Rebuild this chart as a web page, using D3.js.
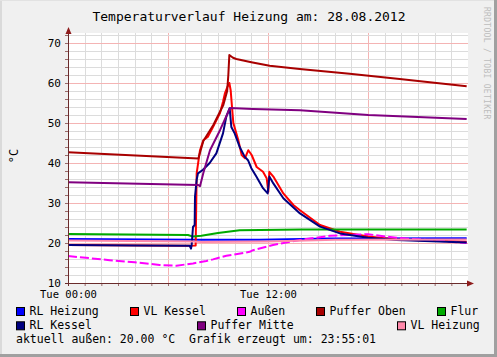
<!DOCTYPE html>
<html>
<head>
<meta charset="utf-8">
<script src="https://cdn.jsdelivr.net/npm/d3@7"></script>
<style>
  body { margin: 0; background: #f0f0f0; }
  svg text { font-family: "DejaVu Sans Mono", monospace; }
</style>
</head>
<body>
<svg id="chart" width="497" height="357"></svg>
<script>
// series data: [hour, °C]
var rlHeizung  = [[0,21.0],[7.5,20.8],[11.5,20.8],[15.7,21.1],[23.92,21.2]];
var vlKessel   = [[0,19.5],[7.3,19.3],[7.66,19.4],[7.72,37.4],[7.92,43.2],[8.12,45.7],[8.4,46.6],[8.7,49],
                  [9.12,52.5],[9.3,55.3],[9.42,57.5],[9.56,59],[9.68,60],[9.76,58.2],[9.84,54],[9.92,50],
                  [10.22,45.7],[10.42,42],[10.62,41.2],[10.82,43.2],[11.02,42],[11.32,39],[11.7,37.8],
                  [11.92,36.2],[12.02,32.8],[12.08,37.8],[12.32,36.6],[12.92,32.4],[13.52,29.5],[13.92,28.2],
                  [15.12,24.5],[16.32,22.8],[18.02,21.6],[19.72,20.9],[23.92,20.3]];
var aussen     = [[0,16.75],[2.5,15.7],[4,15.2],[5.5,14.5],[6.5,14.3],[7.5,14.9],[8.3,15.5],[8.7,15.9],
                  [9.5,16.8],[10.9,17.8],[11.1,18.2],[12.3,19.5],[13.9,20.75],[15.7,21.8],[18.0,22.2],
                  [19.7,21.3],[21.7,20.7],[23.92,20.0]];
var pufferOben = [[0,42.7],[7.82,41.1],[8.12,45.5],[8.72,49.5],[9.32,54.5],[9.55,58],[9.62,62],[9.68,67],
                  [9.9,66.3],[10.1,66],[11,65.2],[12.1,64.3],[13.9,63.5],[16.9,62.3],[19.9,61],[23.92,59.2]];
var flur       = [[0,22.25],[7.2,22.0],[7.5,21.6],[8.0,21.8],[9.0,22.5],[10.3,23.2],[14,23.35],[23.92,23.4]];
var rlKessel   = [[0,19.5],[4,19.4],[7.3,19.3],[7.38,18.6],[7.42,19.5],[7.5,24],[7.6,24.5],[7.62,31.6],
                  [7.72,35.8],[7.8,37.4],[8.1,38.3],[8.5,40],[8.9,42.4],[9.3,47.4],[9.5,51.6],[9.7,53.7],
                  [9.8,49],[10.0,47.4],[10.3,44],[10.6,41.6],[10.8,40.7],[11.0,38.7],[11.3,36.6],[11.7,33.7],
                  [11.98,32.4],[12.08,36.6],[12.32,34.9],[12.92,31.2],[13.92,27.4],[15.12,24.1],[16.32,22.4],
                  [18.0,21.3],[19.72,20.75],[23.92,20.1]];
var pufferMitte= [[0,35.2],[7.82,34.5],[7.92,34.2],[8.12,37.5],[8.52,43.2],[9.12,48.2],[9.72,53.75],
                  [11.1,53.5],[13.92,53.2],[18.02,52],[23.92,51]];
var vlHeizung  = [[0,20.6],[7.5,20.4],[8,20.25],[12,20.4],[16,20.8],[23.92,20.9]];

var seriesNames  = ['RL Heizung','VL Kessel','Außen','Puffer Oben','Flur','RL Kessel','Puffer Mitte','VL Heizung'];
var seriesColors = ['#0000ff','#ff0000','#ff00ff','#a80000','#00aa00','#000080','#800080','#ff88aa'];
var seriesData   = [rlHeizung, vlKessel, aussen, pufferOben, flur, rlKessel, pufferMitte, vlHeizung];

var yTicks = [10,20,30,40,50,60,70];
var xTickLabels = ['Tue 00:00','Tue 12:00'];
var xTickHours = [0,12];

var svg = d3.select('#chart');

var x = d3.scaleLinear().domain([0,24]).range([68,468]);
var y = d3.scaleLinear().domain([10,72.5]).range([283,33]);

// FRAME
svg.append('rect').attr('x',0).attr('y',0).attr('width',497).attr('height',357).attr('fill','#f0f0f0');
svg.append('rect').attr('x',0).attr('y',0).attr('width',2).attr('height',357).attr('fill','#dadada');
svg.append('rect').attr('x',0).attr('y',0).attr('width',497).attr('height',1).attr('fill','#e2e2e2');
svg.append('rect').attr('x',494).attr('y',0).attr('width',3).attr('height',357).attr('fill','#a0a0a0');
svg.append('rect').attr('x',0).attr('y',354).attr('width',497).attr('height',3).attr('fill','#a0a0a0');

// PLOT BACKGROUND
svg.append('rect').attr('x',x(0)).attr('y',y(72.5)).attr('width',x(24)-x(0)).attr('height',y(10)-y(72.5))
  .attr('fill','#ffffff');

// GRID
var grid = svg.append('g').attr('shape-rendering','crispEdges');
grid.selectAll('line.vmin').data(d3.range(1,24)).enter().append('line')
  .attr('x1',function(d){return Math.round(x(d))+0.5;}).attr('x2',function(d){return Math.round(x(d))+0.5;})
  .attr('y1',y(72.5)).attr('y2',y(10))
  .attr('stroke', function(d){ return d%6==0 ? '#f4b4b4' : '#dcdcdc'; });
grid.selectAll('line.hmin').data(d3.range(12,73,2)).enter().append('line')
  .attr('y1',function(d){return Math.round(y(d))+0.5;}).attr('y2',function(d){return Math.round(y(d))+0.5;})
  .attr('x1',x(0)).attr('x2',x(24))
  .attr('stroke', function(d){ return d%10==0 ? '#f4b4b4' : '#dcdcdc'; });

// LINES
var line = d3.line().x(function(d){return x(d[0]);}).y(function(d){return y(d[1]);});
svg.append('g').selectAll('path').data(seriesData).enter().append('path')
  .attr('d', line)
  .attr('fill','none')
  .attr('stroke-width',2)
  .attr('stroke-linejoin','round')
  .attr('stroke-dasharray', function(d,i){ return seriesNames[i]=='Außen' ? '9,3' : null; })
  .attr('stroke', function(d,i){ return seriesColors[i]; });

// AXES
var axisColor = '#6a2c2c', arrowColor = '#8e1c1c';
var yAx = svg.append('g').attr('transform','translate('+x(0)+',0)')
  .call(d3.axisLeft(y).tickValues(yTicks).tickSize(3).tickPadding(4).tickFormat(d3.format('d')));
var xAx = svg.append('g').attr('transform','translate(0,'+y(10)+')')
  .call(d3.axisBottom(x).tickValues(xTickHours).tickSize(3).tickPadding(5)
    .tickFormat(function(d,i){ return xTickLabels[i]; }));
var xMinor = svg.append('g').attr('transform','translate(0,'+y(10)+')')
  .call(d3.axisBottom(x).tickValues(d3.range(1,24)).tickSize(3).tickFormat(''));
var yMinor = svg.append('g').attr('transform','translate('+x(0)+',0)')
  .call(d3.axisLeft(y).tickValues(d3.range(12,73,2)).tickSize(3).tickFormat(''));
[yAx,xAx,xMinor,yMinor].forEach(function(a){
  a.select('.domain').remove();
  a.selectAll('line').attr('stroke','#9a6a6a');
  a.selectAll('text').attr('fill','#000').style('font-size','10.5px').style('font-family','DejaVu Sans Mono');
});
xAx.selectAll('line').attr('stroke','#e08080');
yAx.selectAll('text').style('font-size','11px');

svg.append('line').attr('x1',x(0)+0.5).attr('x2',x(0)+0.5).attr('y1',y(10)+3).attr('y2',y(72.5))
  .attr('stroke',axisColor);
svg.append('line').attr('x1',x(0)-3).attr('x2',x(24)+1).attr('y1',y(10)+0.5).attr('y2',y(10)+0.5)
  .attr('stroke',axisColor);
svg.append('path').attr('d','M'+(x(0)+0.5)+','+(y(72.5)-6)+'L'+(x(0)-2.5)+','+(y(72.5)+1)+'L'+(x(0)+3.5)+','+(y(72.5)+1)+'Z')
  .attr('fill',arrowColor);
svg.append('path').attr('d','M'+(x(24)+6)+','+(y(10)+0.5)+'L'+(x(24)-1)+','+(y(10)-2.5)+'L'+(x(24)-1)+','+(y(10)+3.5)+'Z')
  .attr('fill',arrowColor);

// TITLE + LABELS
svg.append('text').attr('x',249).attr('y',21).attr('text-anchor','middle')
  .style('font-size','13px').text('Temperaturverlauf Heizung am: 28.08.2012');
svg.append('text').attr('transform','translate(18,156) rotate(-90)').attr('text-anchor','middle')
  .style('font-size','12px').text('°C');
svg.append('text').attr('transform','translate(484,7) rotate(90)')
  .style('font-size','8px').style('letter-spacing','0.3px').attr('fill','#bdbdbd').text('RRDTOOL / TOBI OETIKER');

// LEGEND
var legendX = [16,130,237,316,437,16,197,397];
var legendRow = [0,0,0,0,0,1,1,1];
var legend = svg.append('g').selectAll('g').data(seriesNames).enter().append('g')
  .attr('transform', function(d,i){ return 'translate('+legendX[i]+','+(307+legendRow[i]*14.3)+')'; });
legend.append('rect').attr('x',0.5).attr('y',0.5).attr('width',8).attr('height',8)
  .attr('fill', function(d,i){ return seriesColors[i]; }).attr('stroke','#000');
legend.append('text').attr('x',13.5).attr('y',7.5).style('font-size','11.5px').text(function(d){ return d; });

svg.append('text').attr('x',16).attr('y',343).style('font-size','11.5px')
  .attr('xml:space','preserve').text('aktuell außen: 20.00 °C  Grafik erzeugt um: 23:55:01');
</script>
</body>
</html>
